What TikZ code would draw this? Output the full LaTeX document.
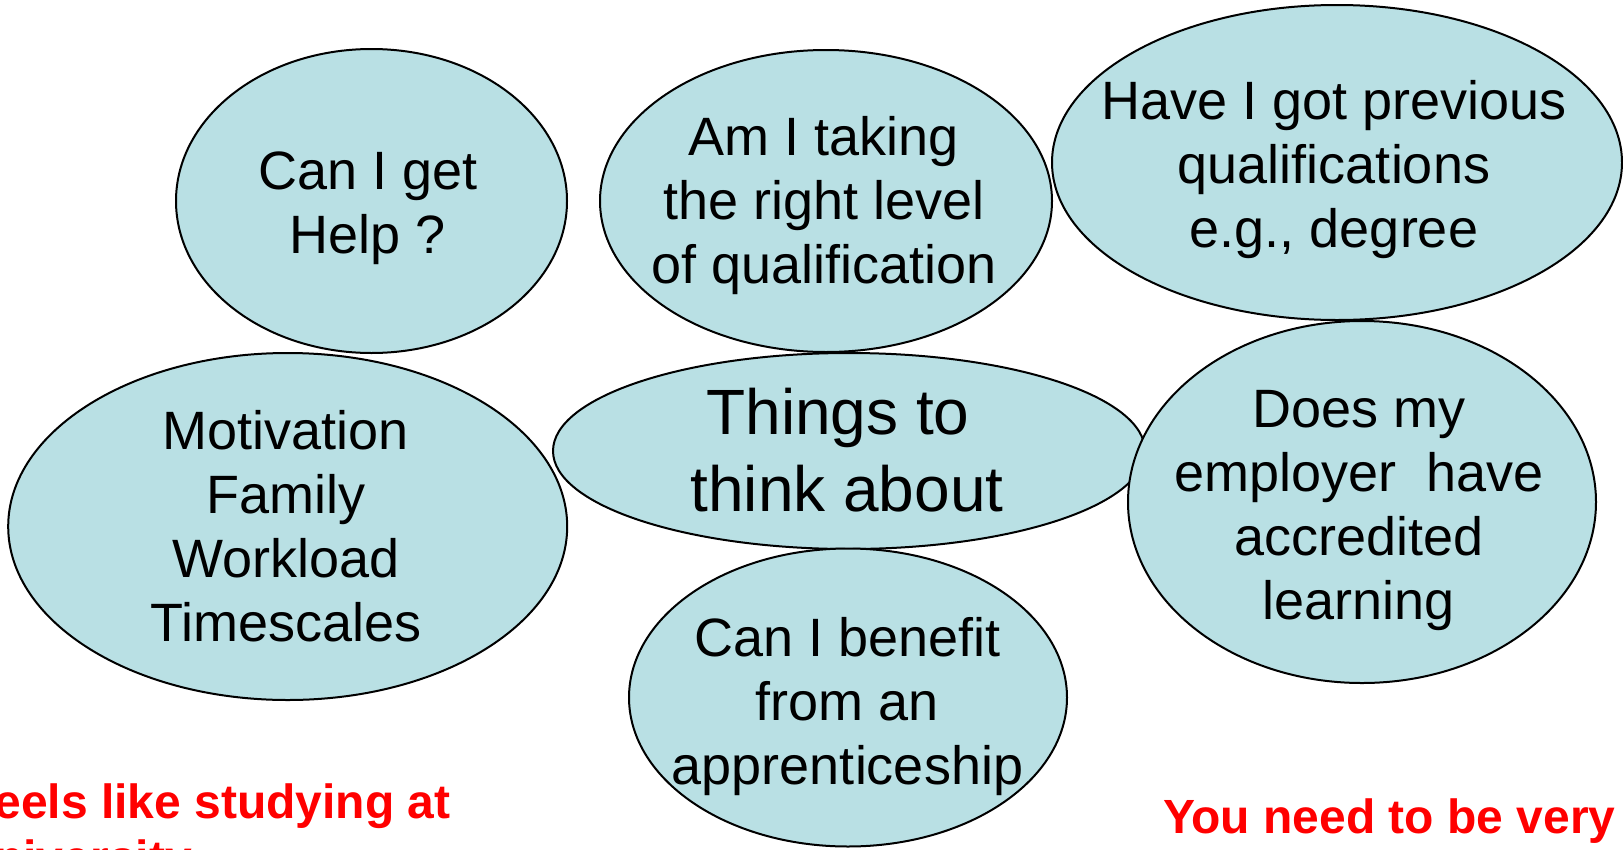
\documentclass[tikz,border=0pt]{standalone}
\usepackage{fontspec}
\setmainfont{Liberation Sans}
\usetikzlibrary{shapes.geometric}
\definecolor{bubblefill}{RGB}{185,224,228}
\definecolor{warnred}{RGB}{255,0,0}
\newcommand\mlines[1]{\begin{tabular}[t]{@{}c@{}}#1\end{tabular}}
\newcommand\llines[1]{\begin{tabular}[t]{@{}l@{}}#1\end{tabular}}
\begin{document}
\begin{tikzpicture}[x=1pt,y=-1pt,
  bubble/.style={ellipse, draw=black, line width=2pt, fill=bubblefill, inner sep=0pt, outer sep=0pt},
  btext/.style={anchor=base, inner sep=0pt, outer sep=0pt, font=\fontsize{54}{64}\selectfont},
  bigtext/.style={anchor=base, inner sep=0pt, outer sep=0pt, font=\fontsize{64}{77}\selectfont},
  redtext/.style={anchor=base west, inner sep=0pt, outer sep=0pt, text=warnred, font=\bfseries\fontsize{48}{56}\selectfont}]
\useasboundingbox (0,0) rectangle (1623,849);
\clip (0,0) rectangle (1623,849);
% bubbles
\node[bubble, minimum width=391pt, minimum height=304pt] (help) at (371.5,201) {};
\node[bubble, minimum width=452pt, minimum height=302pt] (level) at (826,201) {};
\node[bubble, minimum width=570pt, minimum height=315pt] (prev) at (1337,162.5) {};
\node[bubble, minimum width=559pt, minimum height=347pt] (motiv) at (287.7,526.5) {};
\node[bubble, minimum width=592pt, minimum height=196pt] (centre) at (849,451) {};
\node[bubble, minimum width=468pt, minimum height=362pt] (employer) at (1362,502) {};
\node[bubble, minimum width=438pt, minimum height=298pt] (appr) at (848,697.5) {};
% texts
\node[btext] (thelp) at (368,189.4) {\mlines{Can I get\\Help ?}};
\node[btext] (tlevel) at (824,155) {\mlines{Am I taking\\the right level\\of qualification}};
\node[btext] (tprev) at (1334,119) {\mlines{Have I got previous\\qualifications\\e.g., degree}};
\node[btext] (tmotiv) at (286,449) {\mlines{Motivation\\Family\\Workload\\Timescales}};
\node[bigtext] (tcentre) at (847,434.7) {\mlines{Things to\kern18pt\\think about}};
\node[btext] (temployer) at (1359,427.5) {\mlines{Does my\\employer\ \ have\\accredited\\learning}};
\node[btext] (tappr) at (847.5,656) {\mlines{Can I benefit\\from an\\apprenticeship}};
% red notes
\node[redtext] (noteleft) at (-35,818) {\llines{Feels like studying at\\university}};
\node[redtext] (noteright) at (1163,833) {You need to be very};
\end{tikzpicture}
\end{document}
